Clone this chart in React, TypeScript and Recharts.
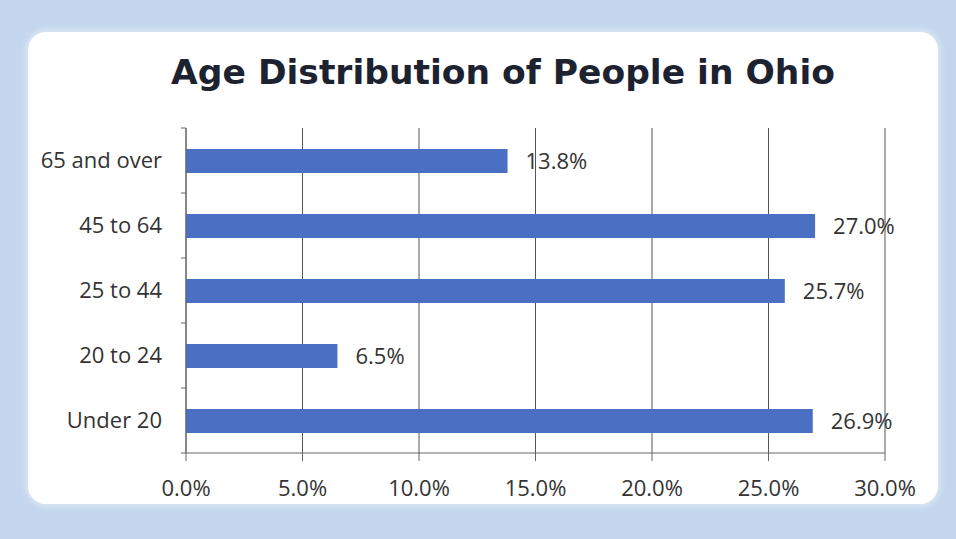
import { BarChart, Bar, XAxis, YAxis, CartesianGrid, LabelList } from 'recharts'

// age groups, top to bottom as drawn
const ageGroups = ['65 and over', '45 to 64', '25 to 44', '20 to 24', 'Under 20']
const sharePct = [13.8, 27.0, 25.7, 6.5, 26.9]
const xTicks = [0, 5, 10, 15, 20, 25, 30]

const data = ageGroups.map((g, i) => ({ group: g, share: sharePct[i] }))

const pct = (v: any) => `${Number(v).toFixed(1)}%`
const labelFont = '"Open Sans", Lato, sans-serif'
const fs = 22
const lastGroup = ageGroups[ageGroups.length - 1]

// category label plus Excel-style tick marks on the band edges
function GroupTick(props: any) {
  const { x, y, payload } = props
  const half = payload?.offset || 32.5
  const ax = x + 24 // axis line position (tickMargin + tickSize)
  return (
    <g>
      <line x1={ax - 5} x2={ax} y1={y - half} y2={y - half} stroke="#666" />
      {payload.value === lastGroup && (
        <line x1={ax - 5} x2={ax} y1={y + half} y2={y + half} stroke="#666" />
      )}
      <text x={x} y={y} dy={7} textAnchor="end" fill="#333" fontSize={fs} fontFamily={labelFont}>
        {payload.value}
      </text>
    </g>
  )
}

export default function App() {
  return (
    <div style={{ position: 'absolute', left: 0, top: 0, width: 956, height: 539, background: '#c3d6ee', overflow: 'hidden' }}>
      <div
        style={{
          position: 'absolute', left: 28, top: 32, width: 910, height: 472,
          background: '#fff', borderRadius: 18, boxShadow: '0 0 6px 3px #dbe6f4',
        }}
      />
      <div
        style={{
          position: 'absolute', left: 0, top: 52, width: 1006, textAlign: 'center',
          fontFamily: '"DejaVu Sans", "Liberation Sans", sans-serif', fontWeight: 'bold', fontSize: 34.5, color: '#1d2230',
        }}
      >
        Age Distribution of People in Ohio
      </div>
      <div style={{ position: 'absolute', left: 0, top: 0 }}>
        <BarChart
          width={956}
          height={539}
          data={data}
          layout="vertical"
          margin={{ top: 128, right: 71, bottom: 56, left: 16 }}
        >
          <CartesianGrid horizontal={false} vertical stroke="#555" strokeWidth={1} />
          <XAxis
            type="number"
            dataKey="share"
            domain={[0, 30]}
            ticks={xTicks}
            tickFormatter={pct}
            height={30}
            tickSize={8}
            tickMargin={19}
            stroke="#666"
            tick={{ fill: '#333', fontSize: fs, fontFamily: labelFont }}
          />
          <YAxis
            type="category"
            dataKey="group"
            width={170}
            tickSize={5}
            tickLine={false}
            tickMargin={19}
            stroke="#666"
            tick={<GroupTick />}
          />
          <Bar dataKey="share" fill="#4a6fc3" barSize={24} isAnimationActive={false}>
            <LabelList
              dataKey="share"
              position="right"
              offset={18}
              formatter={pct}
              style={{ fill: '#333', fontSize: fs, fontFamily: labelFont }}
            />
          </Bar>
        </BarChart>
      </div>
    </div>
  )
}
